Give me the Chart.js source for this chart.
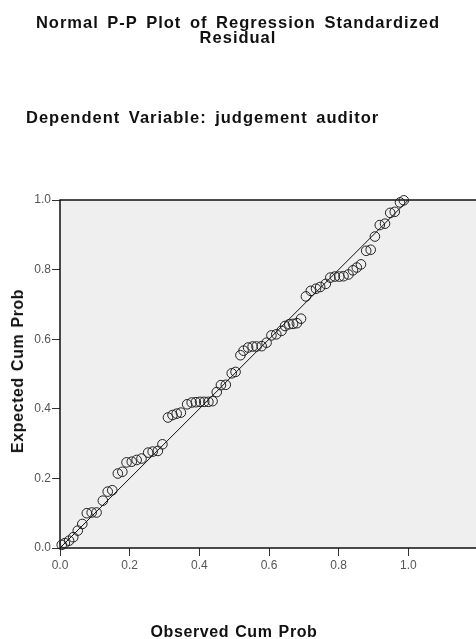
<!DOCTYPE html>
<html>
<head>
<meta charset="utf-8">
<title>Normal P-P Plot</title>
<script src="https://cdn.jsdelivr.net/npm/chart.js@4.4.1/dist/chart.umd.min.js"></script>
<style>
    html, body {
        margin: 0;
        padding: 0;
        width: 476px;
        height: 639px;
        overflow: hidden;
        background: #fff;
        font-family: "Liberation Sans", Arial, sans-serif;
    }
    #wrap {
        position: relative;
        width: 476px;
        height: 639px;
    }
    #ppChart {
        position: absolute;
        left: 0;
        top: 0;
    }
    .label {
        position: absolute;
        font-weight: bold;
        color: #111;
        white-space: nowrap;
        font-size: 16.5px;
        letter-spacing: 1px;
        word-spacing: 3px;
    }
    #mainTitle {
        left: 0;
        width: 476px;
        top: 15px;
        text-align: center;
        line-height: 15px;
    }
    #subTitle {
        left: 26px;
        top: 108px;
    }
    .axisTitle {
        font-size: 16px;
        letter-spacing: 0.6px;
        word-spacing: 1px;
    }
    #yTitle {
        left: 18px;
        top: 371px;
        transform: translate(-50%, -50%) rotate(-90deg);
    }
    #xTitle {
        left: 234px;
        top: 632px;
        transform: translate(-50%, -50%);
    }
</style>
</head>
<body>
<div id="wrap">
    <canvas id="ppChart" width="490" height="639"></canvas>
    <div id="mainTitle" class="label">Normal P-P Plot of Regression Standardized<br>Residual</div>
    <div id="subTitle" class="label">Dependent Variable: judgement auditor</div>
    <div id="yTitle" class="label axisTitle">Expected Cum Prob</div>
    <div id="xTitle" class="label axisTitle">Observed Cum Prob</div>
</div>
<script>
// Observed cumulative probability (x) and expected cumulative probability (y)
const observedCumProb = [
    0.005, 0.014, 0.026, 0.038, 0.051, 0.064, 0.077, 0.091, 0.105, 0.123,
    0.137, 0.150, 0.166, 0.179, 0.191, 0.206, 0.220, 0.234, 0.253, 0.266,
    0.281, 0.294, 0.310, 0.323, 0.335, 0.347, 0.365, 0.378, 0.390, 0.402,
    0.414, 0.426, 0.438, 0.450, 0.462, 0.476, 0.493, 0.504, 0.518, 0.527,
    0.540, 0.553, 0.564, 0.579, 0.593, 0.607, 0.621, 0.636, 0.646, 0.658,
    0.669, 0.680, 0.692, 0.706, 0.720, 0.735, 0.747, 0.763, 0.776, 0.789,
    0.802, 0.814, 0.828, 0.841, 0.852, 0.864, 0.879, 0.892, 0.904, 0.918,
    0.933, 0.948, 0.961, 0.976, 0.987
];
const expectedCumProb = [
    0.009, 0.014, 0.021, 0.031, 0.050, 0.069, 0.100, 0.102, 0.102, 0.136,
    0.162, 0.166, 0.214, 0.219, 0.246, 0.248, 0.253, 0.257, 0.274, 0.277,
    0.279, 0.298, 0.375, 0.382, 0.386, 0.389, 0.413, 0.418, 0.419, 0.420,
    0.420, 0.420, 0.422, 0.448, 0.468, 0.469, 0.502, 0.506, 0.554, 0.567,
    0.576, 0.579, 0.579, 0.580, 0.590, 0.611, 0.614, 0.624, 0.638, 0.643,
    0.644, 0.646, 0.659, 0.723, 0.739, 0.745, 0.750, 0.759, 0.777, 0.780,
    0.780, 0.781, 0.786, 0.798, 0.806, 0.815, 0.854, 0.857, 0.895, 0.928,
    0.932, 0.963, 0.966, 0.993, 0.999
];
// Reference diagonal
const diagonalX = [0, 1];
const diagonalY = [0, 1];
const xTicks = [0, 0.2, 0.4, 0.6, 0.8, 1.0];

// Grey plot background and frame
const plotFrame = {
    id: 'plotFrame',
    beforeDatasetsDraw(chart) {
        const {ctx, chartArea: a} = chart;
        ctx.save();
        ctx.fillStyle = '#efefef';
        ctx.fillRect(a.left, a.top, a.right - a.left, a.bottom - a.top);
        ctx.strokeStyle = '#111';
        ctx.lineWidth = 1.5;
        ctx.strokeRect(a.left, a.top, a.right - a.left, a.bottom - a.top);
        ctx.restore();
    }
};

const ppCtx = document.getElementById('ppChart').getContext('2d');
const ppChart = new Chart(ppCtx, {
    type: 'scatter',
    data: {
        datasets: [{
            type: 'line',
            data: diagonalX.map((x, i) => ({x: x, y: diagonalY[i]})),
            borderColor: '#111',
            borderWidth: 1,
            pointRadius: 0,
            fill: false,
            order: 1
        }, {
            data: observedCumProb.map((x, i) => ({x: x, y: expectedCumProb[i]})),
            pointStyle: 'circle',
            pointRadius: 4.8,
            borderColor: '#222',
            borderWidth: 1,
            backgroundColor: 'rgba(0,0,0,0)',
            clip: false,
            order: 2
        }]
    },
    options: {
        responsive: false,
        animation: false,
        devicePixelRatio: 1,
        layout: {
            padding: {top: 200, left: 0, right: 12, bottom: 0}
        },
        plugins: {
            legend: {display: false},
            tooltip: {enabled: false}
        },
        scales: {
            x: {
                type: 'linear',
                min: 0,
                max: 1.2,
                afterFit: (scale) => { scale.height = 91; },
                afterBuildTicks: (scale) => { scale.ticks = xTicks.map(v => ({value: v})); },
                ticks: {
                    padding: 2,
                    color: '#555',
                    font: {family: '"Liberation Sans", Arial, sans-serif', size: 12},
                    callback: (v) => v.toFixed(1),
                    maxRotation: 0
                },
                grid: {
                    display: true,
                    drawOnChartArea: false,
                    drawTicks: true,
                    tickLength: 8,
                    color: '#333'
                },
                border: {display: false}
            },
            y: {
                type: 'linear',
                min: 0,
                max: 1,
                afterFit: (scale) => { scale.width = 60; },
                ticks: {
                    stepSize: 0.2,
                    padding: 1,
                    color: '#555',
                    font: {family: '"Liberation Sans", Arial, sans-serif', size: 12},
                    callback: (v) => v.toFixed(1)
                },
                grid: {
                    display: true,
                    drawOnChartArea: false,
                    drawTicks: true,
                    tickLength: 8,
                    color: '#333'
                },
                border: {display: false}
            }
        }
    },
    plugins: [plotFrame]
});
</script>
</body>
</html>
